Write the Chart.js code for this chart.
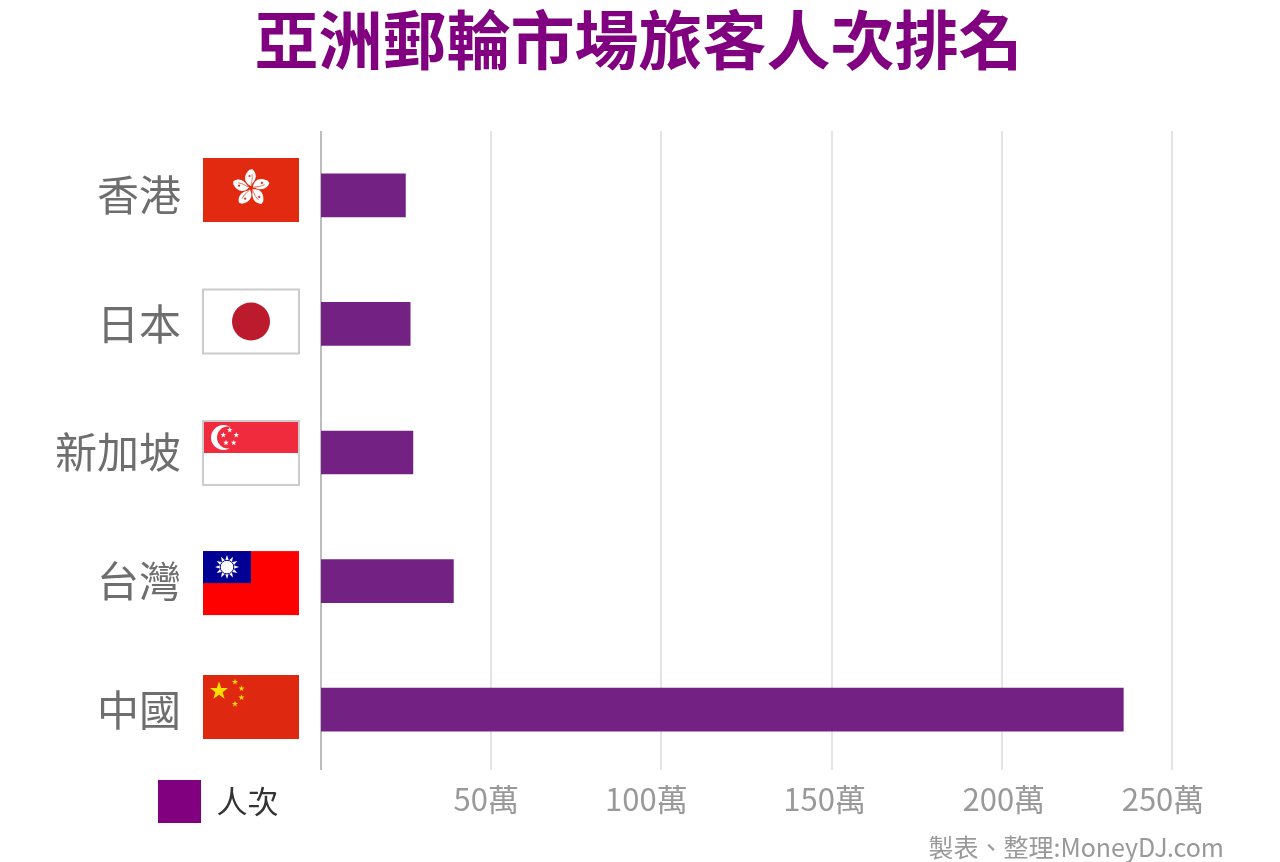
<!DOCTYPE html>
<html lang="zh-Hant">
<head>
<meta charset="utf-8">
<title>亞洲郵輪市場旅客人次排名</title>
<script src="https://cdn.jsdelivr.net/npm/chart.js@4"></script>
<style>
  html, body { margin: 0; padding: 0; background: #fff; }
  canvas { display: block; }
</style>
</head>
<body>
<canvas id="cruiseChart" width="1280" height="862"></canvas>
<script>
const countries = ['香港', '日本', '新加坡', '台灣', '中國'];
const passengers = [24.8, 26.2, 27, 38.9, 235.7];
const xTicks = ['', '50萬', '100萬', '150萬', '200萬', '250萬'];
const seriesName = '人次';
const chartTitle = '亞洲郵輪市場旅客人次排名';
const sourceNote = '製表、整理:MoneyDJ.com';

const FONT = '"Noto Sans CJK TC", "Noto Sans", sans-serif';
const BAR_COLOR = '#732283';
const LEGEND_COLOR = '#800080';

// the tick labels in the reference sit a bit off their grid lines
const xLabelShift = [0, -5, -15, -7, 2, -9];
const flagShift = [-5.3, -2.4, 0.5, 2, -2.7];

// === Flag drawing (96 x 64 box, origin top left) ===
function star(ctx, cx, cy, r, rot = -Math.PI / 2) {
  ctx.beginPath();
  for (let i = 0; i < 10; i++) {
    const rad = i % 2 ? r * 0.4 : r;
    const a = rot + i * Math.PI / 5;
    ctx.lineTo(cx + rad * Math.cos(a), cy + rad * Math.sin(a));
  }
  ctx.closePath();
  ctx.fill();
}

function frame(ctx) {
  ctx.strokeStyle = '#cccccc';
  ctx.lineWidth = 2;
  ctx.strokeRect(0, 0, 96, 64);
}

const flags = [
  function hongKong(ctx) {
    ctx.fillStyle = '#e12a0f';
    ctx.fillRect(0, 0, 96, 64);
    ctx.translate(48, 30);
    for (let i = 0; i < 5; i++) {
      ctx.save();
      ctx.rotate(i * 2 * Math.PI / 5);
      ctx.fillStyle = '#ffffff';
      ctx.beginPath();
      ctx.moveTo(0, -2);
      ctx.bezierCurveTo(-7, -5, -8, -12, -2, -18);
      ctx.lineTo(1, -19);
      ctx.bezierCurveTo(6, -15, 6, -9, 1, -4);
      ctx.closePath();
      ctx.fill();
      ctx.fillStyle = '#e12a0f';
      ctx.beginPath();
      ctx.arc(-1.5, -12, 1.1, 0, Math.PI * 2);
      ctx.fill();
      ctx.strokeStyle = '#e12a0f';
      ctx.lineWidth = 0.6;
      ctx.beginPath();
      ctx.moveTo(0, -3);
      ctx.quadraticCurveTo(2, -9, 1, -14);
      ctx.stroke();
      ctx.restore();
    }
  },
  function japan(ctx) {
    ctx.fillStyle = '#ffffff';
    ctx.fillRect(0, 0, 96, 64);
    frame(ctx);
    ctx.fillStyle = '#bc1a2d';
    ctx.beginPath();
    ctx.arc(48, 32, 19, 0, Math.PI * 2);
    ctx.fill();
  },
  function singapore(ctx) {
    ctx.fillStyle = '#ffffff';
    ctx.fillRect(0, 0, 96, 64);
    ctx.fillStyle = '#ef2b3d';
    ctx.fillRect(0, 0, 96, 32);
    frame(ctx);
    ctx.fillStyle = '#ffffff';
    ctx.beginPath();
    ctx.arc(20.5, 16.5, 12.5, 0, Math.PI * 2);
    ctx.fill();
    ctx.fillStyle = '#ef2b3d';
    ctx.beginPath();
    ctx.arc(25, 16.5, 11, 0, Math.PI * 2);
    ctx.fill();
    ctx.fillStyle = '#ffffff';
    [[26.7, 9], [33.3, 14], [30.7, 21.7], [23, 21.7], [20.3, 14]].forEach(s => star(ctx, s[0], s[1], 3));
  },
  function taiwan(ctx) {
    ctx.fillStyle = '#fe0000';
    ctx.fillRect(0, 0, 96, 64);
    ctx.fillStyle = '#000095';
    ctx.fillRect(0, 0, 48, 32);
    ctx.translate(24, 16);
    ctx.fillStyle = '#ffffff';
    for (let i = 0; i < 12; i++) {
      ctx.save();
      ctx.rotate(i * Math.PI / 6);
      ctx.beginPath();
      ctx.moveTo(-2, -6);
      ctx.lineTo(0, -12);
      ctx.lineTo(2, -6);
      ctx.fill();
      ctx.restore();
    }
    ctx.strokeStyle = '#000095';
    ctx.lineWidth = 1;
    ctx.beginPath();
    ctx.arc(0, 0, 6.8, 0, Math.PI * 2);
    ctx.fill();
    ctx.stroke();
  },
  function china(ctx) {
    ctx.fillStyle = '#de2910';
    ctx.fillRect(0, 0, 96, 64);
    ctx.fillStyle = '#ffde00';
    star(ctx, 16, 16, 9.5);
    [[32, 7], [38.5, 13.5], [38.5, 22.5], [32, 29]].forEach(s => star(ctx, s[0], s[1], 3.2));
  }
];

function noScalePadding(scale) {
  scale.paddingTop = scale.paddingBottom = scale.paddingLeft = scale.paddingRight = 0;
}

// === Places legend, title, note and shifted tick labels ===
const layoutFixes = {
  id: 'layoutFixes',
  afterLayout(chart) {
    const legend = chart.legend;
    legend.left = 158;
    legend.right = 420;
    legend.top = 780;
    legend.bottom = 826;
    chart.boxes.forEach(box => {
      if (!box.options) return;
      if (box.options.text === sourceNote) box.right = 1224;
      if (box.options.text === chartTitle) { box.left = 0; box.right = 1277; }
    });
    // rows run slightly past the end of the grid lines in the reference
    chart.scales.y._length = 643;
  },
  beforeDraw(chart) {
    const scale = chart.scales.x;
    scale.getLabelItems(chart.chartArea).forEach((item, i) => {
      item.options.translation[0] = scale.getPixelForTick(i) + xLabelShift[i];
    });
  }
};

const flagPlugin = {
  id: 'flagPlugin',
  afterDraw(chart) {
    const { ctx, scales } = chart;
    flags.forEach((draw, i) => {
      ctx.save();
      ctx.translate(203, scales.y.getPixelForTick(i) - 32 + flagShift[i]);
      draw(ctx);
      ctx.restore();
    });
  }
};

new Chart(document.getElementById('cruiseChart'), {
  type: 'bar',
  data: {
    labels: countries,
    datasets: [{
      label: seriesName,
      data: passengers,
      backgroundColor: BAR_COLOR,
      barThickness: 43,
      base: -0.3
    }]
  },
  options: {
    indexAxis: 'y',
    responsive: false,
    animation: false,
    layout: { autoPadding: false, padding: { right: 108 } },
    scales: {
      x: {
        min: 0,
        max: 250,
        afterFit(scale) { scale.height = 62.2; noScalePadding(scale); },
        border: { display: false },
        grid: {
          drawTicks: false,
          lineWidth: 2,
          color: ctx => (ctx.tick && ctx.tick.value === 0 ? '#bdbdbd' : '#e4e4e4')
        },
        ticks: {
          stepSize: 50,
          padding: 11,
          maxRotation: 0,
          autoSkip: false,
          color: '#999999',
          font: { family: FONT, size: 31 },
          callback: (value, i) => xTicks[i]
        }
      },
      y: {
        afterFit(scale) { scale.width = 321; noScalePadding(scale); },
        border: { display: false },
        grid: { display: false, drawTicks: false },
        ticks: {
          padding: 140,
          color: '#6e6e6e',
          font: { family: FONT, size: 42 }
        }
      }
    },
    plugins: {
      title: {
        display: true,
        text: chartTitle,
        color: LEGEND_COLOR,
        font: { family: FONT, size: 64, weight: 'bold' },
        padding: { top: 1, bottom: 53.2 }
      },
      subtitle: {
        display: true,
        position: 'bottom',
        align: 'end',
        text: sourceNote,
        color: '#999999',
        font: { family: FONT, size: 25 },
        padding: 0
      },
      legend: {
        position: 'chartArea',
        align: 'start',
        labels: {
          boxWidth: 43,
          boxHeight: 43,
          padding: 0,
          font: { family: FONT, size: 31 },
          generateLabels: chart => [{
            text: chart.data.datasets[0].label,
            fillStyle: LEGEND_COLOR,
            strokeStyle: LEGEND_COLOR,
            fontColor: '#333333',
            lineWidth: 0,
            datasetIndex: 0
          }]
        }
      },
      tooltip: { enabled: false }
    }
  },
  plugins: [layoutFixes, flagPlugin]
});
</script>
</body>
</html>
